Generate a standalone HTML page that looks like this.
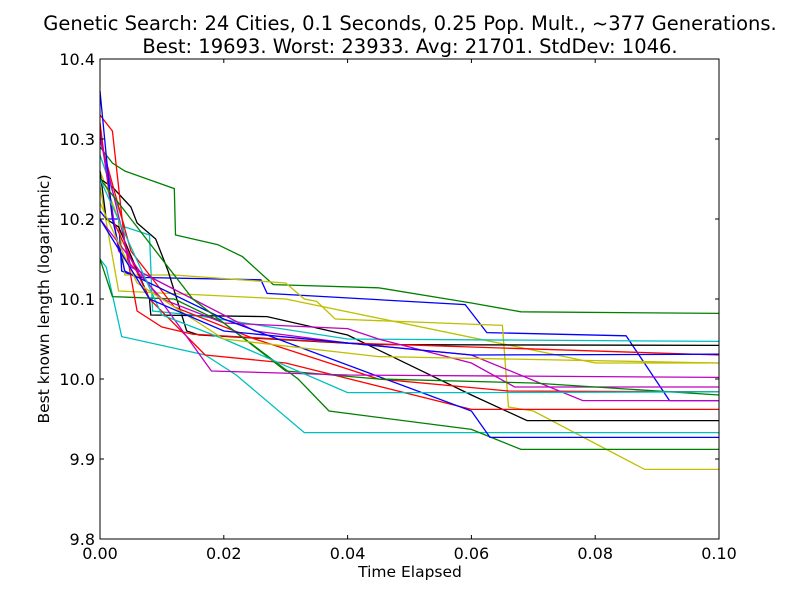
<!DOCTYPE html>
<html><head><meta charset="utf-8"><style>
body{margin:0;background:#fff;}
svg{display:block;font-family:"DejaVu Sans","Liberation Sans",sans-serif;}
</style></head><body>
<svg id="chart" width="800" height="600">
<rect width="800" height="600" fill="#fff"/>
<text x="410" y="30" font-size="19.5" text-anchor="middle">Genetic Search: 24 Cities, 0.1 Seconds, 0.25 Pop. Mult., ~377 Generations.</text>
<text x="410" y="53" font-size="19.5" text-anchor="middle">Best: 19693. Worst: 23933. Avg: 21701. StdDev: 1046.</text>
<g id="lines"></g>
<g id="axes"></g>
<text x="410" y="577" font-size="15.5" text-anchor="middle">Time Elapsed</text>
<text x="0" y="0" font-size="15.5" text-anchor="middle" transform="translate(49,299) rotate(-90)">Best known length (logarithmic)</text>
</svg>
<script>
const xTicks=[0,0.02,0.04,0.06,0.08,0.1];
const xTickLabels=["0.00","0.02","0.04","0.06","0.08","0.10"];
const yTicks=[9.8,9.9,10.0,10.1,10.2,10.3,10.4];
const yTickLabels=["9.8","9.9","10.0","10.1","10.2","10.3","10.4"];
const seriesColors=["#008000","#0000ff","#bfbf00","#bfbf00","#000000","#000000","#00bfbf","#00bfbf","#008000","#ff0000","#ff0000","#ff0000","#bf00bf","#bf00bf","#0000ff","#008000","#bf00bf","#00bfbf","#bfbf00","#0000ff"];
const s1=[[0,10.29],[0.002,10.27],[0.004,10.26],[0.012,10.238],[0.0122,10.18],[0.019,10.168],[0.023,10.153],[0.028,10.118],[0.045,10.114],[0.06,10.095],[0.068,10.084],[0.1,10.082]];
const s2=[[0,10.21],[0.001,10.2],[0.003,10.2],[0.0035,10.135],[0.006,10.127],[0.026,10.124],[0.027,10.107],[0.059,10.093],[0.0625,10.058],[0.085,10.054],[0.092,9.973],[0.1,9.973]];
const s3=[[0,10.26],[0.003,10.2],[0.004,10.13],[0.012,10.13],[0.03,10.12],[0.033,10.1],[0.035,10.097],[0.038,10.075],[0.065,10.067],[0.066,9.965],[0.07,9.96],[0.088,9.887],[0.1,9.887]];
const s4=[[0,10.24],[0.003,10.11],[0.03,10.1],[0.08,10.02],[0.1,10.02]];
const s5=[[0,10.25],[0.002,10.24],[0.005,10.215],[0.006,10.195],[0.009,10.175],[0.011,10.135],[0.014,10.06],[0.016,10.055],[0.044,10.043],[0.1,10.042]];
const s6=[[0,10.26],[0.001,10.2],[0.003,10.19],[0.008,10.1],[0.0082,10.08],[0.027,10.078],[0.04,10.055],[0.06,9.98],[0.069,9.948],[0.1,9.948]];
const s7=[[0,10.15],[0.001,10.14],[0.0035,10.053],[0.017,10.03],[0.022,10.005],[0.033,9.933],[0.1,9.933]];
const s8=[[0,10.28],[0.004,10.19],[0.008,10.18],[0.0085,10.085],[0.015,10.08],[0.04,10.05],[0.1,10.047]];
const s9=[[0,10.15],[0.002,10.103],[0.012,10.1],[0.02,10.07],[0.032,10.0],[0.037,9.96],[0.06,9.937],[0.068,9.912],[0.1,9.912]];
const s10=[[0,10.33],[0.002,10.31],[0.004,10.17],[0.006,10.085],[0.01,10.065],[0.015,10.056],[0.04,10.045],[0.06,10.04],[0.1,10.03]];
const s11=[[0,10.32],[0.002,10.2],[0.008,10.1],[0.017,10.03],[0.03,10.02],[0.06,9.962],[0.1,9.962]];
const s12=[[0,10.3],[0.005,10.16],[0.012,10.09],[0.025,10.05],[0.045,10.0],[0.066,9.985],[0.1,9.984]];
const s13=[[0,10.31],[0.003,10.16],[0.01,10.1],[0.02,10.07],[0.04,10.063],[0.045,10.05],[0.06,10.02],[0.067,9.99],[0.1,9.99]];
const s14=[[0,10.3],[0.005,10.14],[0.015,10.1],[0.025,10.06],[0.04,10.045],[0.06,10.03],[0.078,9.973],[0.1,9.973]];
const s15=[[0,10.36],[0.002,10.2],[0.004,10.135],[0.02,10.075],[0.06,9.96],[0.063,9.927],[0.1,9.927]];
const s16=[[0,10.25],[0.005,10.2],[0.015,10.1],[0.03,10.01],[0.045,10.0],[0.07,9.995],[0.1,9.98]];
const s17=[[0,10.2],[0.005,10.15],[0.018,10.01],[0.04,10.005],[0.1,10.002]];
const s18=[[0,10.25],[0.01,10.08],[0.02,10.05],[0.04,9.983],[0.06,9.983],[0.1,9.984]];
const s19=[[0,10.22],[0.006,10.12],[0.02,10.05],[0.045,10.028],[0.1,10.02]];
const s20=[[0,10.2],[0.008,10.1],[0.02,10.06],[0.06,10.03],[0.1,10.031]];
const allSeries=[s1,s2,s3,s4,s5,s6,s7,s8,s9,s10,s11,s12,s13,s14,s15,s16,s17,s18,s19,s20];

const L=100,R=719,T=59,B=539,X0=0,X1=0.1,Y0=9.8,Y1=10.4;
const sx=v=>L+(v-X0)/(X1-X0)*(R-L);
const sy=v=>B-(v-Y0)/(Y1-Y0)*(B-T);
const NS="http://www.w3.org/2000/svg";
const lines=document.getElementById('lines');
allSeries.forEach((s,i)=>{
  const p=document.createElementNS(NS,'polyline');
  p.setAttribute('points',s.map(d=>sx(d[0]).toFixed(1)+','+sy(d[1]).toFixed(1)).join(' '));
  p.setAttribute('fill','none');
  p.setAttribute('stroke',seriesColors[i]);
  p.setAttribute('stroke-width','1.3');
  
  
  lines.appendChild(p);
});
const axes=document.getElementById('axes');
function mk(tag,attrs,txt){const e=document.createElementNS(NS,tag);for(const k in attrs)e.setAttribute(k,attrs[k]);if(txt!=null)e.textContent=txt;axes.appendChild(e);return e;}
const frame=mk('rect',{x:L,y:T,width:R-L,height:B-T,fill:'none',stroke:'#000','stroke-width':1});


xTicks.forEach((v,i)=>{
  const x=sx(v);
  const t1=mk('line',{x1:x,x2:x,y1:B,y2:B-4,stroke:'#000'});
  
  
  const t2=mk('line',{x1:x,x2:x,y1:T,y2:T+4,stroke:'#000'});
  
  
  const lb=mk('text',{x:x,y:B+20,'font-size':16,'text-anchor':'middle'},xTickLabels[i]);
  
  
});
yTicks.forEach((v,i)=>{
  const y=sy(v);
  const t1=mk('line',{x1:L,x2:L+4,y1:y,y2:y,stroke:'#000'});
  
  
  const t2=mk('line',{x1:R,x2:R-4,y1:y,y2:y,stroke:'#000'});
  
  
  const lb=mk('text',{x:L-5,y:y+6,'font-size':16,'text-anchor':'end'},yTickLabels[i]);
  
  
});
</script>
</body></html>
